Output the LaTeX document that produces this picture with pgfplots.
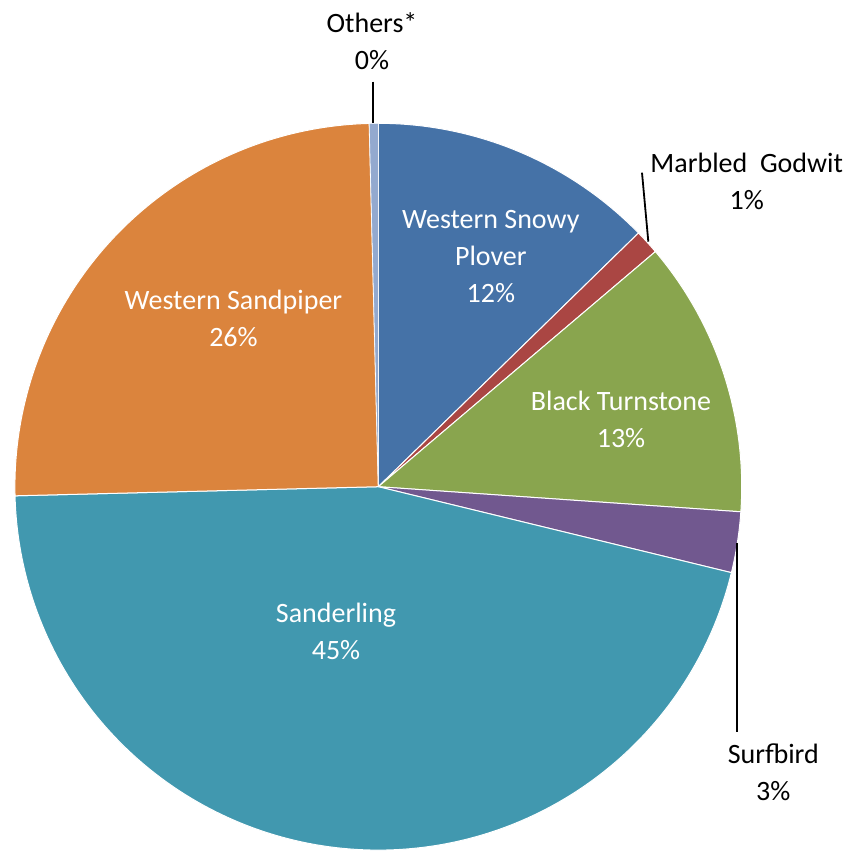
\documentclass[border=0pt]{standalone}
\usepackage{pgfplots}
\usepackage{pgfplotstable}
\pgfplotsset{compat=1.18}
\usepackage{fontspec}
\setmainfont{Carlito}
\definecolor{cPlover}{HTML}{4572A7}
\definecolor{cGodwit}{HTML}{AA4643}
\definecolor{cTurn}{HTML}{89A54E}
\definecolor{cSurf}{HTML}{71588F}
\definecolor{cSand}{HTML}{4198AF}
\definecolor{cPiper}{HTML}{DB843D}
\definecolor{cOther}{HTML}{93A9CF}
\tikzset{lbl/.style={font=\fontsize{14}{18.3}\selectfont, align=center, inner sep=0pt}}
% share of each species, percent (clockwise from 12 o'clock)
\pgfplotstableread{
name value
Plover 12.7
Godwit 1.1
Turnstone 12.3
Surfbird 2.7
Sanderling 45.8
Sandpiper 25.0
Others 0.4
}\piedata
\begin{document}
\begin{tikzpicture}
\pgfplotstablegetelem{0}{value}\of\piedata\let\vA\pgfplotsretval
\pgfplotstablegetelem{1}{value}\of\piedata\let\vB\pgfplotsretval
\pgfplotstablegetelem{2}{value}\of\piedata\let\vC\pgfplotsretval
\pgfplotstablegetelem{3}{value}\of\piedata\let\vD\pgfplotsretval
\pgfplotstablegetelem{4}{value}\of\piedata\let\vE\pgfplotsretval
\pgfplotstablegetelem{5}{value}\of\piedata\let\vF\pgfplotsretval
\pgfplotstablegetelem{6}{value}\of\piedata\let\vG\pgfplotsretval
\pgfmathsetmacro\aO{90}
\pgfmathsetmacro\aA{\aO-3.6*\vA}
\pgfmathsetmacro\aB{\aA-3.6*\vB}
\pgfmathsetmacro\aC{\aB-3.6*\vC}
\pgfmathsetmacro\aD{\aC-3.6*\vD}
\pgfmathsetmacro\aE{\aD-3.6*\vE}
\pgfmathsetmacro\aF{\aE-3.6*\vF}
\pgfmathsetmacro\aG{\aF-3.6*\vG}
\begin{axis}[
  width=430pt, height=424.5pt, scale only axis,
  hide axis, clip=false,
  xmin=-1.0410, xmax=1.3255, ymin=-0.99697, ymax=1.3393,
]
\addplot[draw=none] coordinates {(-1.0410,-0.99697) (1.3255,1.3393)};
\addplot[fill=cPlover, draw=white, line width=0.5pt, domain=\aA:\aO, samples=60] ({cos(x)},{sin(x)}) -- (0,0) -- cycle;
\addplot[fill=cGodwit, draw=white, line width=0.5pt, domain=\aB:\aA, samples=20] ({cos(x)},{sin(x)}) -- (0,0) -- cycle;
\addplot[fill=cTurn, draw=white, line width=0.5pt, domain=\aC:\aB, samples=60] ({cos(x)},{sin(x)}) -- (0,0) -- cycle;
\addplot[fill=cSurf, draw=white, line width=0.5pt, domain=\aD:\aC, samples=20] ({cos(x)},{sin(x)}) -- (0,0) -- cycle;
\addplot[fill=cSand, draw=white, line width=0.5pt, domain=\aE:\aD, samples=150] ({cos(x)},{sin(x)}) -- (0,0) -- cycle;
\addplot[fill=cPiper, draw=white, line width=0.5pt, domain=\aF:\aE, samples=90] ({cos(x)},{sin(x)}) -- (0,0) -- cycle;
\addplot[fill=cOther, draw=white, line width=0.3pt, domain=\aG:\aF, samples=10] ({cos(x)},{sin(x)}) -- (0,0) -- cycle;
% leader lines
\addplot[black, line width=0.9pt] coordinates {(-0.0138,1.1145) (-0.0138,1.0008)};
\addplot[black, line width=0.9pt] coordinates {(0.7256,0.8641) (0.7430,0.6742)};
\addplot[black, line width=0.9pt] coordinates {(0.9879,-0.1549) (0.9879,-0.6758)};
% labels
\node[lbl, text=white] at (axis cs:0.3096,0.6335) {Western Snowy\\Plover\\12\%};
\node[lbl, text=white] at (axis cs:0.6679,0.1849) {Black Turnstone\\13\%};
\node[lbl, text=white] at (axis cs:-0.1164,-0.3985) {Sanderling\\45\%};
\node[lbl, text=white] at (axis cs:-0.3985,0.4629) {Western Sandpiper\\26\%};
\node[lbl, text=black] at (axis cs:-0.0173,1.2265) {Others*\\0\%};
\node[lbl, text=black] at (axis cs:1.0138,0.8399) {Marbled\ \ Godwit\\1\%};
\node[lbl, text=black] at (axis cs:1.087,-0.7865) {Surfbird\\3\%};
\end{axis}
\end{tikzpicture}
\end{document}
